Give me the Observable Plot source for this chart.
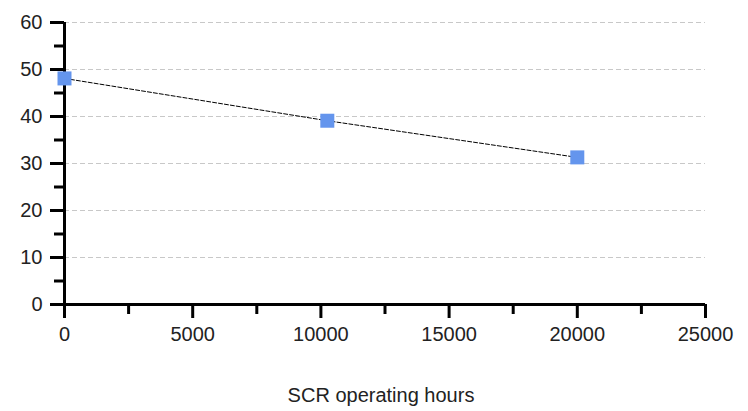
<!DOCTYPE html>
<html>
<head>
<meta charset="utf-8">
<script src="https://cdn.jsdelivr.net/npm/d3@7"></script>
<script src="https://cdn.jsdelivr.net/npm/@observablehq/plot@0.6"></script>
<style>
  html, body { margin: 0; padding: 0; background: #fff; }
  svg { display: block; }
</style>
</head>
<body>
<div id="chart"></div>
<script>
// Data
const hours = [0, 10250, 20000];
const values = [48.1, 39.1, 31.3];

const xMajor = [0, 5000, 10000, 15000, 20000, 25000];
const xMinor = [2500, 7500, 12500, 17500, 22500];
const yMajor = [0, 10, 20, 30, 40, 50, 60];
const yMinor = [5, 15, 25, 35, 45, 55];
const yGrid = [10, 20, 30, 40, 50, 60];
const xTitle = "SCR operating hours";

const data = hours.map((h, i) => ({hours: h, value: values[i]}));

const chart = Plot.plot({
  width: 748,
  height: 411,
  marginLeft: 64,
  marginRight: 43,
  marginTop: 22,
  marginBottom: 107,
  style: {fontFamily: "'Liberation Sans', Arial, sans-serif", fontSize: "20px", color: "#222", background: "#fff"},
  x: {domain: [0, 25000], label: null},
  y: {domain: [0, 60], label: null},
  marks: [
    Plot.gridY(yGrid, {stroke: "#c8c8c8", strokeOpacity: 1, strokeWidth: 1, strokeDasharray: "5,3"}),
    Plot.axisY(yMinor, {tickSize: 10, tickFormat: () => "", strokeWidth: 3, stroke: "#000", label: null}),
    Plot.axisY(yMajor, {tickSize: 14, tickPadding: 8, strokeWidth: 3, stroke: "#000", label: null, fill: "#222"}),
    Plot.axisX(xMinor, {tickSize: 10, tickFormat: () => "", strokeWidth: 3, stroke: "#000", label: null}),
    Plot.axisX(xMajor, {tickSize: 14, tickPadding: 8, strokeWidth: 3, stroke: "#000", label: null, fill: "#222", tickFormat: d => String(d)}),
    Plot.ruleY([0], {strokeWidth: 3, stroke: "#000"}),
    Plot.ruleX([0], {strokeWidth: 3, stroke: "#000"}),
    Plot.line(data, {x: "hours", y: "value", stroke: "#000", strokeWidth: 1, strokeDasharray: "4,2"}),
    Plot.dot(data, {x: "hours", y: "value", symbol: "square", r: 7.9, fill: "#6495ed", stroke: "none"}),
    Plot.text([xTitle], {frameAnchor: "bottom", lineAnchor: "middle", dy: 91, dx: -4, fill: "#222", fontSize: 20})
  ]
});

document.getElementById("chart").append(chart);
</script>
</body>
</html>
